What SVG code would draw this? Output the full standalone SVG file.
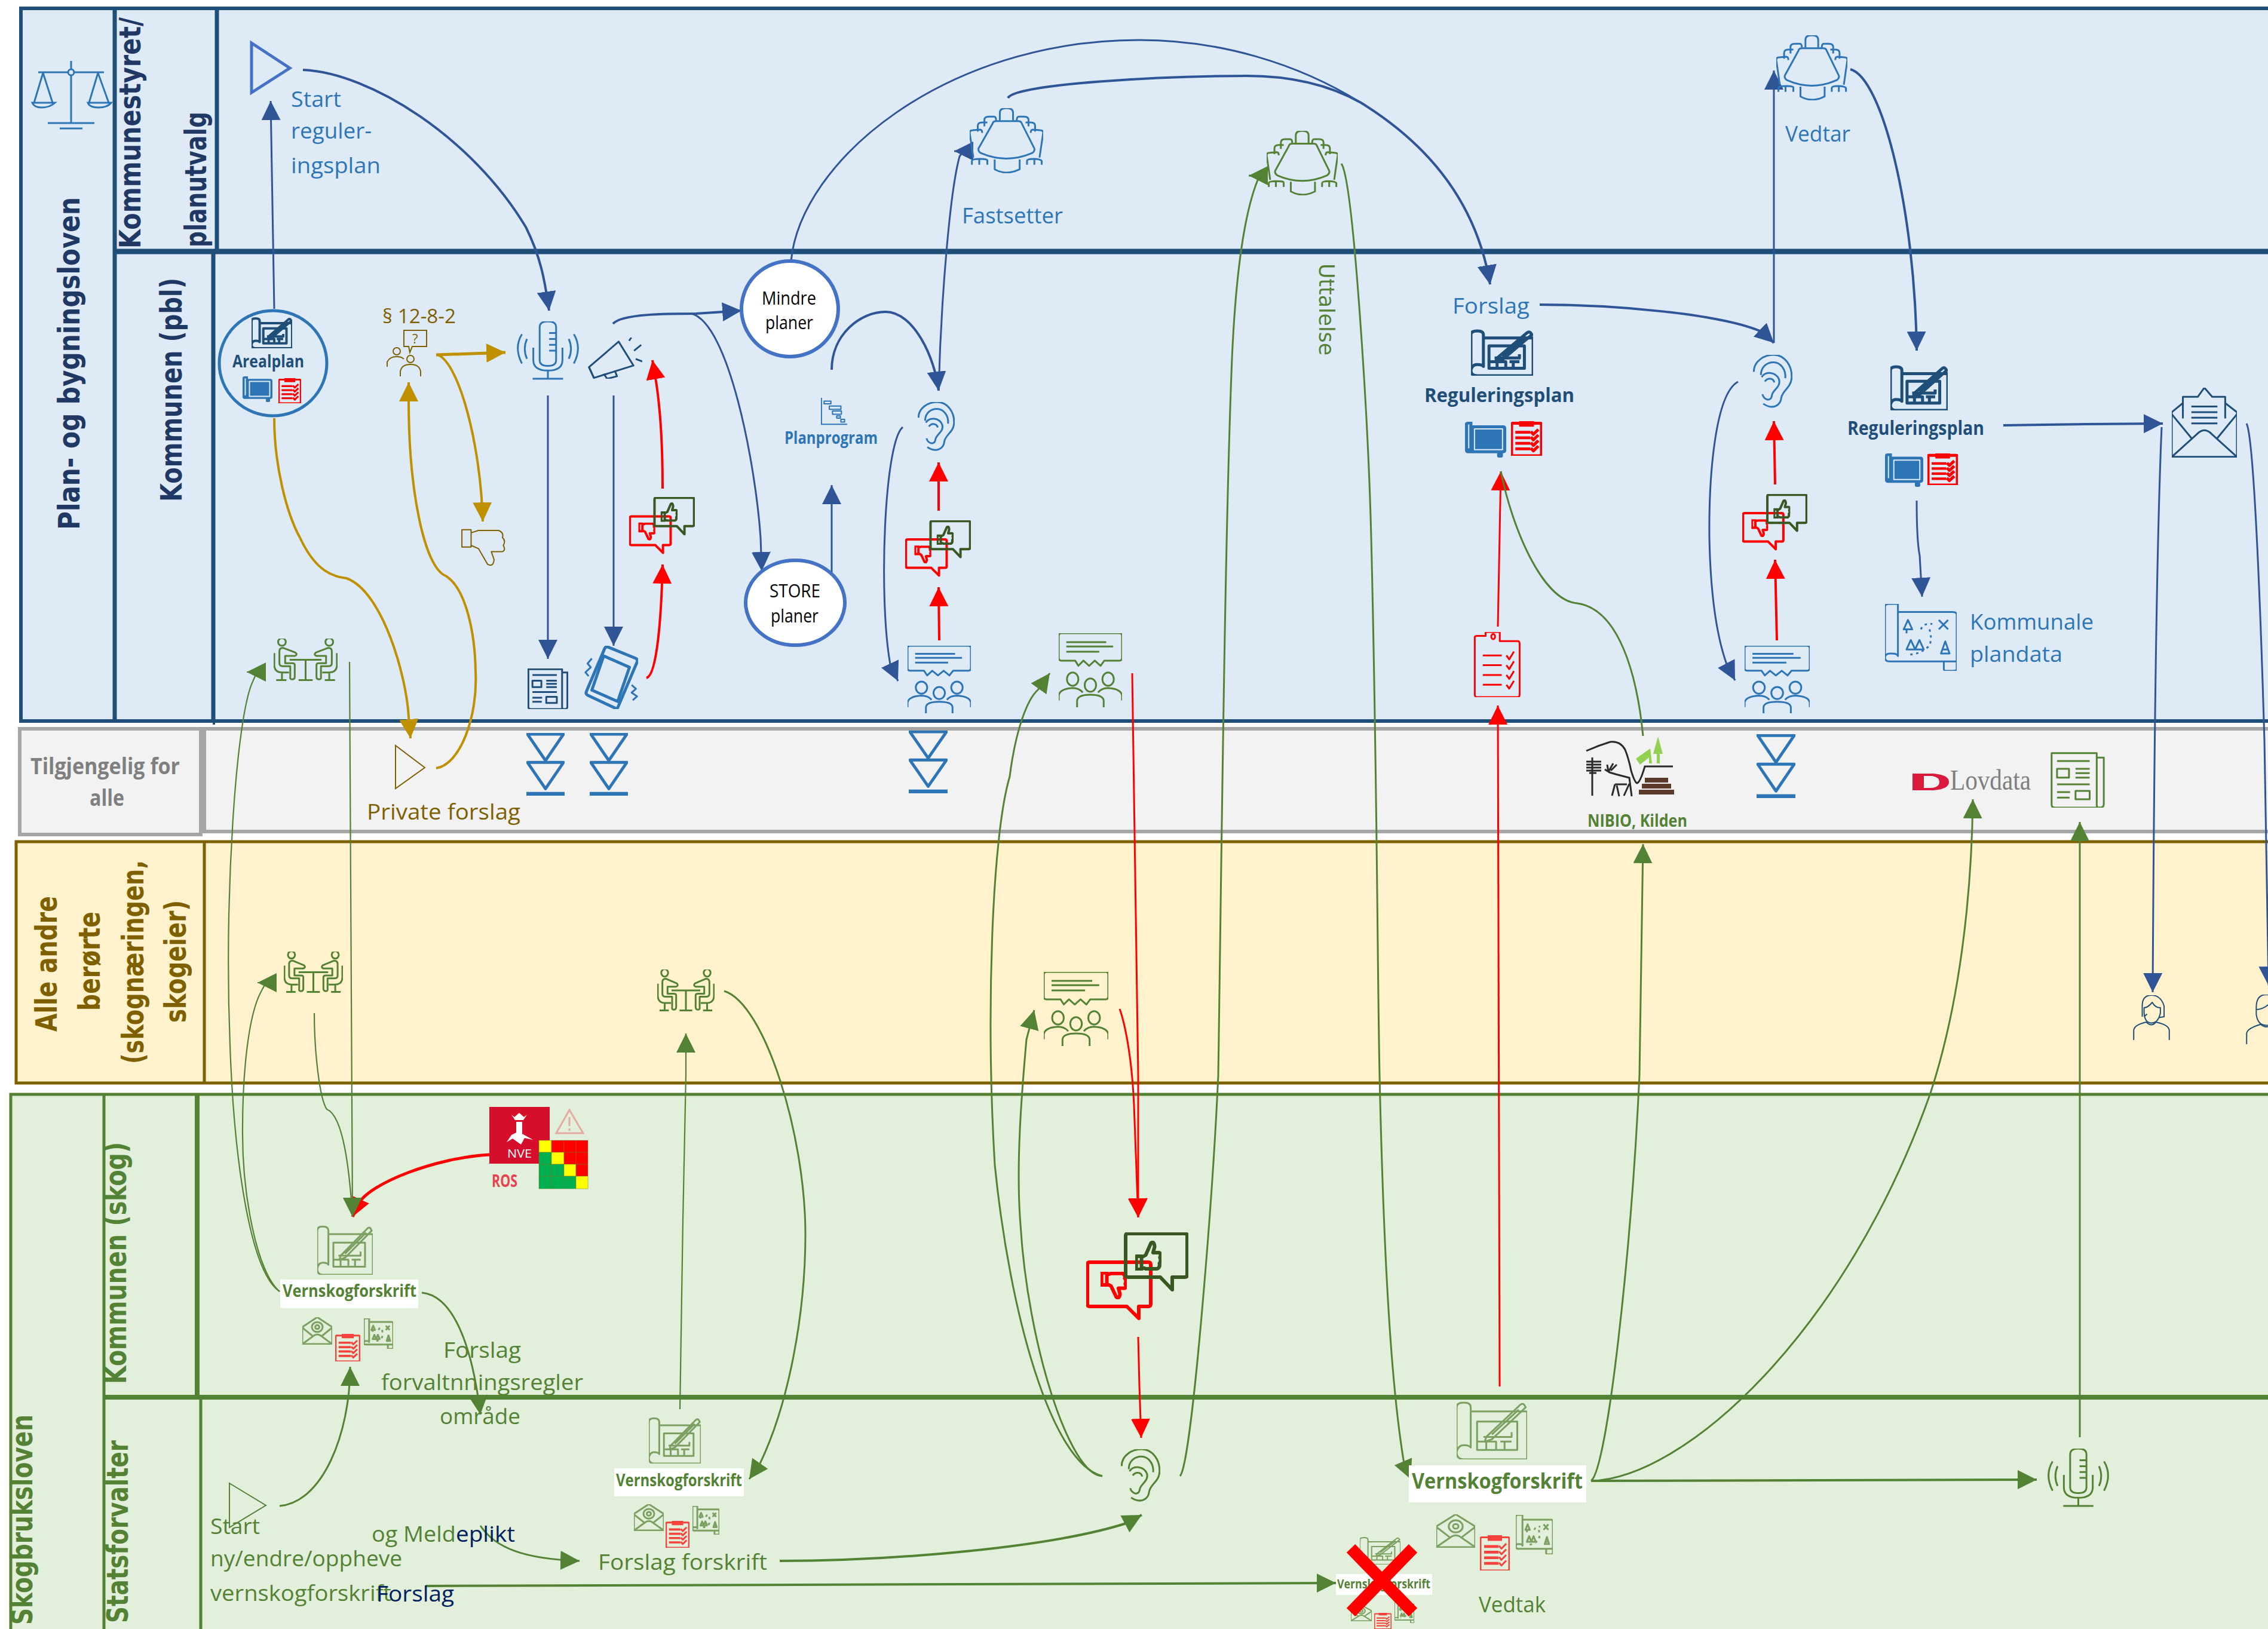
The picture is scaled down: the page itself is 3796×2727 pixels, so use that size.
<svg xmlns="http://www.w3.org/2000/svg" width="3796" height="2727" viewBox="0 0 3796 2727">
<style>
text{font-family:"Open Sans","Liberation Sans",sans-serif;font-size:37px}
.t{font-family:"DejaVu Sans",Verdana,sans-serif;font-weight:bold;font-size:50px}
.b{font-weight:bold;font-size:29px}
.navy{fill:#1F3864}.dk{fill:#1F4E79}.bl{fill:#2E75B6}.gr{fill:#548235}.go{fill:#7F6000}.gy{fill:#7F7F7F}.nv{fill:#002060}.k{fill:#000;font-size:31px}
.lb{fill:#DEEAF6;stroke:#1F4E79;stroke-width:6}
.lg{fill:#F2F2F2;stroke:#A6A6A6;stroke-width:6}
.ly{fill:#FFF2CC;stroke:#7F6000;stroke-width:5}
.lv{fill:#E2EFDA;stroke:#548235;stroke-width:5}
.d1{stroke:#1F4E79;fill:none}.d2{stroke:#548235;fill:none}.d3{stroke:#7F6000;fill:none}
#connectors path{fill:none}
.cb{stroke:#2F5597}.cg{stroke:#548235}.cy{stroke:#BF9000}.cr{stroke:#FF0000}
.w2{stroke-width:2.2}.w3{stroke-width:3}.w4{stroke-width:4}.w5{stroke-width:5}
.mab{marker-end:url(#ab)}.mag{marker-end:url(#ag)}.may{marker-end:url(#ay)}.mar{marker-end:url(#ar)}
symbol *{fill:none;stroke:currentColor;vector-effect:non-scaling-stroke;stroke-linejoin:round}
symbol .f{fill:currentColor;stroke:none}
.iB{color:#2E75B6;stroke-width:3}.iD{color:#1F4E79;stroke-width:3}.iG{color:#548235;stroke-width:3}.iO{color:#7F6000;stroke-width:2}
.iR{color:#FF0000;stroke-width:3}.s5{stroke-width:5}.s2{stroke-width:2}
.fade{opacity:.72}
.circ{fill:#fff;stroke:#4472C4;stroke-width:6}
</style>
<defs>
<marker id="ab" markerUnits="userSpaceOnUse" markerWidth="34" markerHeight="34" refX="32" refY="16" orient="auto"><path d="M0 0L32 16L0 32Z" fill="#2F5597"/></marker>
<marker id="ag" markerUnits="userSpaceOnUse" markerWidth="34" markerHeight="34" refX="32" refY="16" orient="auto"><path d="M0 0L32 16L0 32Z" fill="#548235"/></marker>
<marker id="ay" markerUnits="userSpaceOnUse" markerWidth="34" markerHeight="34" refX="32" refY="16" orient="auto"><path d="M0 0L32 16L0 32Z" fill="#BF9000"/></marker>
<marker id="ar" markerUnits="userSpaceOnUse" markerWidth="34" markerHeight="34" refX="32" refY="16" orient="auto"><path d="M0 0L32 16L0 32Z" fill="#FF0000"/></marker>
<symbol id="conf" viewBox="0 0 100 100" preserveAspectRatio="none">
<path d="M36 20H66Q70 20 71 24L88 62Q89 66 85 69Q50 86 15 69Q11 66 12 62L31 24Q32 20 36 20Z"/>
<path d="M34 79V94Q50 104 68 94V79"/>
<path d="M41 19V7Q41 0 50 0T59 7V19"/>
<path d="M20 28V18Q20 13 26 13H33Q36 13 36 19"/><path d="M80 28V18Q80 13 74 13H67Q64 13 64 19"/>
<path d="M11 36V27Q11 22 17 22H24"/><path d="M89 36V27Q89 22 83 22H76"/>
<path d="M5 76L0 38Q0 34 4 34L14 33Q17 33 17 38"/><path d="M95 76L100 38Q100 34 96 34L86 33Q83 33 83 38"/>
<path d="M3 87V81Q3 78 14 78T24 81V87M13 78V87"/><path d="M78 87V81Q78 78 87 78T98 81V87M88 78V87"/>
</symbol>
<symbol id="ear" viewBox="0 0 100 100" preserveAspectRatio="none">
<path d="M2 32C2 12 28 0 52 0C82 0 100 22 98 44C96 62 76 66 72 80C70 96 50 104 26 92"/>
<path d="M20 38C20 22 36 14 52 14C70 14 84 28 82 44"/>
<path d="M22 42C32 30 58 32 66 46C72 60 50 66 48 76C46 90 26 84 24 74"/>
<path d="M30 50C38 42 52 44 54 52"/>
</symbol>
<symbol id="mic" viewBox="0 0 100 100" preserveAspectRatio="none">
<path d="M37 10Q37 0 50 0T63 10V66Q63 76 50 76T37 66Z"/>
<path d="M27 45V66Q27 84 50 84T73 66V45"/>
<path d="M50 84V98M26 98H74M52 20H63M52 30H63M52 40H63M52 50H63"/>
<path d="M9 22Q-4 45 9 72M17 30Q10 47 17 64M91 22Q104 45 91 72M83 30Q90 47 83 64"/>
</symbol>
<symbol id="mega" viewBox="0 0 100 100" preserveAspectRatio="none">
<path d="M3 72L57 10L84 68L12 98Z"/><path d="M3 72L12 98M30 88L36 100L54 94L50 80"/>
<path d="M76 8L80 0M85 32L98 18M88 52L100 58"/>
</symbol>
<symbol id="plan" viewBox="0 0 100 100" preserveAspectRatio="none">
<path d="M20 19H100V100H10Q0 100 0 88V12Q0 4 10 4T20 12V80Q18 76 10 76T0 88"/>
<path d="M29 36H86V84H29ZM38 62H78V54M29 70H42V84M38 70H56V84M62 70H78M68 70V84"/>
<path d="M42 62L90 8Q94 4 96 8L98 12L50 66L40 70ZM50 58L88 16"/>
</symbol>
<symbol id="mapf" viewBox="0 0 100 100" preserveAspectRatio="none">
<path class="f" d="M0 6Q0 0 8 0H18V10H92Q100 10 100 18V80Q100 88 92 88V96Q92 100 88 100H82Q78 100 78 96V88H8Q0 88 0 80Z"/>
<path d="M23 20H91V78H23ZM9 8V74" style="stroke:#DEEAF6;stroke-width:2"/>
</symbol>
<symbol id="clip" viewBox="0 0 100 100" preserveAspectRatio="none">
<path d="M6 6H94Q98 6 98 10V96Q98 100 94 100H6Q2 100 2 96V10Q2 6 6 6Z"/>
<path class="f" d="M26 0H74V16H26ZM14 28H62V36H14ZM14 44H62V52H14ZM14 60H62V68H14ZM14 76H62V84H14Z"/>
<path d="M64 30L72 38L88 24M64 46L72 54L88 40M64 62L72 70L88 56M64 78L72 86L88 72"/>
</symbol>
<symbol id="clipo" viewBox="0 0 100 100" preserveAspectRatio="none">
<path d="M3 8Q3 6 8 6H26V0H56V14H94Q98 14 98 18V96Q98 100 94 100H8Q3 100 3 96Z"/>
<circle cx="42" cy="7" r="4"/>
<path d="M20 36H60M20 51H60M20 66H60M20 81H60M70 36L76 42L86 30M70 51L76 57L86 45M70 66L76 72L86 60M70 81L76 87L86 75"/>
</symbol>
<symbol id="news" viewBox="0 0 100 100" preserveAspectRatio="none">
<path d="M2 2H85V96Q85 100 90 100H8Q2 100 2 95Z"/><path d="M85 10H98V94Q98 100 90 100"/>
<path d="M12 16H72M12 82H35"/><path d="M12 30H34V46H12ZM46 30H72M46 38H72M46 46H72M12 58H72M12 72H36M46 70H72V85H46Z"/>
</symbol>
<symbol id="phone" viewBox="0 0 100 100" preserveAspectRatio="none">
<path d="M44 2L96 20Q100 22 98 26L62 98Q60 100 56 98L6 78Q2 76 4 72L38 4Q40 1 44 2Z"/>
<path d="M36 16L84 34M14 70L62 88L84 34L36 16Z"/>
<path d="M14 20L6 28L12 34L2 42L8 48M88 62L96 68L88 74L98 80L90 86" style="stroke-width:3"/>
</symbol>
<symbol id="grp" viewBox="0 0 100 100" preserveAspectRatio="none">
<path d="M4 0H96Q100 0 100 4V33Q100 37 96 37H72L66 44L57 37L48 44L39 37L31 44L26 37H4Q0 37 0 33V4Q0 0 4 0Z"/>
<path d="M12 12H75M12 18H86M12 25H64"/>
<ellipse cx="22" cy="62" rx="9" ry="9"/><ellipse cx="50" cy="70" rx="9" ry="9"/><ellipse cx="78" cy="62" rx="9" ry="9"/>
<path d="M0 91V84Q2 75 22 74Q32 74 38 80M100 91V84Q98 75 78 74Q68 74 62 80"/>
<path d="M29 100V91Q30 83 50 83T71 91V100"/>
</symbol>
<symbol id="meet" viewBox="0 0 100 100" preserveAspectRatio="none">
<ellipse cx="13" cy="8" rx="6" ry="9"/><ellipse cx="87" cy="8" rx="6" ry="9"/>
<path d="M25 50H75M50 50V98M39 98H61"/>
<path d="M9 58V30Q9 22 15 22L34 33Q38 38 33 41H18V58H29Q33 58 33 62V90Q33 96 29 96T26 90V65H14Q9 65 9 58Z"/>
<path d="M91 58V30Q91 22 85 22L66 33Q62 38 67 41H82V58H71Q67 58 67 62V90Q67 96 71 96T74 90V65H86Q91 65 91 58Z"/>
<path d="M1 34V62Q1 80 14 80H24M13 80V98M4 98H20M99 34V62Q99 80 86 80H76M87 80V98M96 98H80"/>
</symbol>
<symbol id="tri2" viewBox="0 0 100 100" preserveAspectRatio="none">
<path d="M3 2H97L50 44ZM3 47H97L50 89Z"/><rect class="f" x="0" y="94" width="100" height="6"/>
</symbol>
<symbol id="thumb" viewBox="0 0 50 50" preserveAspectRatio="none">
<path d="M2 26H12V48H2ZM12 28L20 24L30 4Q36 0 37 10L34 20H46Q50 22 47 28Q50 34 46 38Q48 44 42 47H20L12 44Z"/>
</symbol>
<symbol id="thumbd" viewBox="0 0 50 50" preserveAspectRatio="none">
<path d="M2 24H12V2H2ZM12 22L20 26L30 46Q36 50 37 40L34 30H46Q50 28 47 22Q50 16 46 12Q48 6 42 3H20L12 6Z"/>
</symbol>
<symbol id="pair" viewBox="0 0 171 148" preserveAspectRatio="none">
<g style="color:#FF0000"><path d="M6 50H104Q108 50 108 54V120Q108 124 104 124H88V144L68 124H6Q2 124 2 120V54Q2 50 6 50Z"/><use href="#thumbd" x="24" y="66" width="44" height="46"/></g>
<g style="color:#385723"><path d="M70 2H165Q169 2 169 6V71Q169 75 165 75H144V96L124 75H70Q66 75 66 71V6Q66 2 70 2Z"/><use href="#thumb" x="82" y="14" width="44" height="50"/></g>
</symbol>
<symbol id="env" viewBox="0 0 100 100" preserveAspectRatio="none">
<path d="M17 44V13H40L50 0L62 13H82V44"/><path d="M0 35L17 22M100 35L82 22M0 35V99H100V35"/>
<path d="M0 99L38 67Q50 55 62 67L100 99M0 38L30 72M100 38L70 72"/>
<path d="M30 27H70M30 35H70M30 43H70M30 51H70"/>
</symbol>
<symbol id="enva" viewBox="0 0 100 100" preserveAspectRatio="none">
<path d="M0 36L50 0L100 36V98H0Z"/><path d="M0 98L40 66Q50 60 60 66L100 98M0 38L34 68M100 38L66 68"/>
<circle cx="50" cy="36" r="18"/><circle cx="50" cy="36" r="7"/>
</symbol>
<symbol id="map" viewBox="0 0 100 100" preserveAspectRatio="none">
<path d="M0 4Q0 0 6 0H18V12H94Q100 12 100 16V98Q100 100 92 100H84Q82 100 82 96V86H6Q0 86 0 80ZM18 12V78Q18 74 8 74Q0 74 0 80M100 86H82"/>
<path d="M26 38L32 24L38 38ZM30 38V44M75 24L88 38M88 24L75 38M30 68L36 54L42 68ZM42 68L48 54L54 68ZM78 74L84 56L90 74ZM80 68H88"/>
<path d="M50 38Q54 28 66 30M62 38Q66 52 62 62Q50 76 30 76" stroke-dasharray="4 6"/>
</symbol>
<symbol id="gantt" viewBox="0 0 100 100" preserveAspectRatio="none">
<path d="M2 0V96H100"/><path d="M12 12H38V22H12ZM32 30H76V42H32ZM44 48H78V60H44ZM60 66H74V74H60ZM76 78H90V88H76Z"/>
</symbol>
<symbol id="fem" viewBox="0 0 100 100" preserveAspectRatio="none">
<path d="M25 48V24Q25 0 50 0T84 24V48L70 50M30 48L38 42"/>
<path d="M30 28Q40 28 52 16Q60 28 74 28V40Q68 62 50 62T30 40Z"/>
<path d="M2 100V78Q4 66 36 60Q50 72 62 60Q96 66 98 78V100"/>
</symbol>
<symbol id="mal" viewBox="0 0 100 100" preserveAspectRatio="none">
<path d="M28 26Q28 0 55 0T84 26V40Q78 62 55 62T28 40Z"/><path d="M28 30Q50 30 72 12"/>
<path d="M2 100V78Q4 68 40 60Q55 70 70 60Q96 68 98 78V100"/>
</symbol>
</defs>

<g id="lanes">
<g id="lane-pbl">
<rect class="lb" x="35" y="14" width="3770" height="1193"/>
<path class="d1" stroke-width="7" d="M192 12V1207M363 12V421M357 421V1207"/>
<path class="d1" stroke-width="9" d="M192 421H3796"/>
<path class="d1" stroke-width="4" stroke-dasharray="6 5" d="M358 646V1224"/>
</g>
<g id="lane-all">
<rect class="lg" x="33" y="1220" width="303" height="177"/>
<rect class="lg" x="342" y="1220" width="3460" height="172"/>
</g>
<g id="lane-other">
<rect class="ly" x="27" y="1409" width="3780" height="404"/>
<path class="d3" stroke-width="5" d="M342 1409V1813"/>
</g>
<g id="lane-skog">
<rect class="lv" x="18" y="1832" width="3790" height="910"/>
<path class="d2" stroke-width="5" d="M174 1832V2727M336 2339V2727"/>
<path class="d2" stroke-width="8" d="M330 1832V2339"/>
<path class="d2" stroke-width="8" d="M174 2339H3796"/>
</g>
<g id="lane-titles">
<text class="t navy" transform="translate(133,887) rotate(-90)" textLength="557" lengthAdjust="spacingAndGlyphs">Plan- og bygningsloven</text>
<text class="t navy" transform="translate(235,416) rotate(-90)" textLength="387" lengthAdjust="spacingAndGlyphs">Kommunestyret/</text>
<text class="t navy" transform="translate(345,414) rotate(-90)" textLength="227" lengthAdjust="spacingAndGlyphs">planutvalg</text>
<text class="t navy" transform="translate(304,840) rotate(-90)" textLength="375" lengthAdjust="spacingAndGlyphs">Kommunen (pbl)</text>
<text class="b gy" style="font-size:38px" x="51" y="1296" textLength="250" lengthAdjust="spacingAndGlyphs">Tilgjengelig for</text>
<text class="b gy" style="font-size:38px" x="150" y="1349" textLength="58" lengthAdjust="spacingAndGlyphs">alle</text>
<text class="t go" transform="translate(95,1727) rotate(-90)" textLength="227" lengthAdjust="spacingAndGlyphs">Alle andre</text>
<text class="t go" transform="translate(167,1692) rotate(-90)" textLength="166" lengthAdjust="spacingAndGlyphs">berørte</text>
<text class="t go" transform="translate(240,1781) rotate(-90)" textLength="341" lengthAdjust="spacingAndGlyphs">(skognæringen,</text>
<text class="t go" transform="translate(311,1712) rotate(-90)" textLength="205" lengthAdjust="spacingAndGlyphs">skogeier)</text>
<text class="t gr" transform="translate(54,2720) rotate(-90)" textLength="352" lengthAdjust="spacingAndGlyphs">Skogbruksloven</text>
<text class="t gr" transform="translate(211,2317) rotate(-90)" textLength="405" lengthAdjust="spacingAndGlyphs">Kommunen (skog)</text>
<text class="t gr" transform="translate(214,2717) rotate(-90)" textLength="306" lengthAdjust="spacingAndGlyphs">Statsforvalter</text>
</g>
</g>

<g id="connectors">
<path class="cb w3 mab" d="M459 517L456 344L453 169"/>
<path class="cb w4 mab" d="M507 117C620 122 790 230 880 380C905 430 912 470 919 520"/>
<path class="cb w4 mab" d="M1026 542C1040 525 1120 525 1165 525L1241 520"/>
<path class="cb w3 mab" d="M1157 525C1220 540 1265 780 1273 900L1275 956"/>
<path class="cb w3 mab" d="M917 662V1103"/>
<path class="cb w3 mab" d="M1027 662V1081"/>
<path class="cb w3 mab" d="M1392 960V812"/>
<path class="cb w3 mab" d="M1324 437C1340 270 1580 67 1907 67C2040 67 2170 105 2278 172C2380 235 2470 330 2494 476"/>
<path class="cb w4 mab" d="M1687 164C1700 140 1950 127 2087 127C2170 127 2230 145 2278 172C2380 235 2470 330 2494 476"/>
<path class="cb w4 mab" d="M1392 619C1392 560 1440 522 1482 522C1530 522 1565 600 1571 654"/>
<path class="cb w3 mab" d="M1571 654C1575 500 1590 320 1606 262L1612 253L1597 253"/>
<path class="cb w3 mab" d="M1511 715C1480 740 1470 1000 1490 1112L1503 1140"/>
<path class="cb w3 mab" d="M2909 639C2870 660 2860 800 2861 900C2863 1000 2875 1070 2890 1112L2904 1139"/>
<path class="cb w4 mab" d="M2577 510C2700 510 2880 525 2950 556L2969 574"/>
<path class="cb w3 mab" d="M2969 574V118"/>
<path class="cb w4 mab" d="M3097 116C3150 130 3205 350 3208 587"/>
<path class="cb w3 mab" d="M3208 838C3208 900 3211 920 3213 930L3217 999"/>
<path class="cb w4 mab" d="M3353 712L3492 710L3620 709"/>
<path class="cb w3 mab" d="M3618 715C3610 900 3605 1300 3603 1661"/>
<path class="cb w3 mab" d="M3760 709C3772 730 3783 1000 3790 1240L3797 1650"/>
<path class="cy w4 may" d="M459 700C459 780 480 860 502 900C530 960 560 965 580 968C640 990 680 1130 684 1200L687 1236"/>
<path class="cy w4 may" d="M730 1286C770 1280 800 1200 796 1124C795 1060 780 985 746 964C710 950 684 820 684 672L684 640"/>
<path class="cy w5 may" d="M730 594L846 590"/>
<path class="cy w4 may" d="M733 594C770 610 805 750 808 873"/>
<path class="cr w4 mar" d="M1082 1135C1100 1130 1107 1030 1109 945"/>
<path class="cr w4 mar" d="M1109 818C1109 740 1105 680 1097 632L1092 603"/>
<path class="cr w4 mar" d="M1572 1072L1571 983"/>
<path class="cr w4 mar" d="M1571 855V774"/>
<path class="cr w4 mar" d="M2974 1072L2971 937"/>
<path class="cr w4 mar" d="M2971 811L2969 705"/>
<path class="cr w3 mar" d="M2507 1049L2512 789"/>
<path class="cr w3 mar" d="M2510 2321L2507 1181"/>
<path class="cr w3 mar" d="M1895 1127C1900 1400 1904 1600 1905 1800L1905 2038"/>
<path class="cr w3 mar" d="M1874 1689C1885 1720 1895 1780 1898 1850L1905 2038"/>
<path class="cr w3 mar" d="M1905 2238L1907 2320L1910 2407"/>
<path class="cr w5 mar" d="M819 1933C730 1938 620 1980 600 2015L590 2037"/>
<path class="cg w2 mag" d="M585 1108L590 2037"/>
<path class="cg w2" d="M526 1696C526 1760 535 1840 547 1857C575 1868 585 1960 590 2037"/>
<path class="cg w2 mag" d="M468 2162C420 2130 392 1950 385 1750C375 1500 395 1200 423 1141L430 1125L413 1125"/>
<path class="cg w2 mag" d="M468 2162C430 2130 405 2000 406 1889C406 1800 415 1700 437 1660L445 1645L431 1645"/>
<path class="cg w3 mag" d="M706 2164C770 2170 795 2290 804 2368"/>
<path class="cg w3 mag" d="M468 2521C540 2515 586 2400 586 2288"/>
<path class="cg w3 mag" d="M804 2554C829 2592 879 2610 970 2613"/>
<path class="cg w4 mag" d="M713 2655L2236 2650"/>
<path class="cg w2 mag" d="M1138 2359L1143 2042L1148 1800V1730"/>
<path class="cg w3 mag" d="M1212 1659C1280 1680 1348 1900 1348 2066C1348 2200 1320 2350 1272 2450L1254 2476"/>
<path class="cg w4 mag" d="M1305 2613C1500 2613 1760 2590 1885 2550L1911 2536"/>
<path class="cg w3 mag" d="M1845 2471C1790 2470 1720 2250 1708 2050C1700 1950 1710 1830 1718 1740L1731 1691"/>
<path class="cg w3 mag" d="M1845 2471C1760 2450 1690 2200 1665 1950C1650 1700 1660 1400 1690 1300C1700 1220 1720 1170 1737 1155L1757 1127"/>
<path class="cg w3 mag" d="M1975 2471C1995 2450 2030 2000 2039 1800C2045 1400 2050 900 2062 600C2070 420 2090 340 2104 304L2108 294L2090 294"/>
<path class="cg w3 mag" d="M2245 274C2265 300 2290 700 2295 900C2305 1300 2305 1600 2309 1800C2318 2200 2335 2360 2350 2450L2361 2476"/>
<path class="cg w3 mag" d="M2663 2479C2690 2460 2730 2100 2744 1800L2750 1413"/>
<path class="cg w3 mag" d="M2663 2479C2820 2475 3090 2230 3231 1830C3280 1680 3300 1500 3302 1338"/>
<path class="cg w4 mag" d="M2663 2479L3409 2477"/>
<path class="cg w3 mag" d="M3481 2406V1376"/>
<path class="cg w3" d="M2750 1232C2740 1130 2710 1020 2640 1010C2580 1005 2530 880 2512 789"/>
</g>

<g id="n-scales" fill="none" stroke="#2E75B6" stroke-width="3">
<path d="M119 102V206M64 121H174M80 206H158M100 215H138"/><circle cx="119" cy="121" r="5" fill="#DEEAF6"/>
<path d="M72 122L57 172M72 122L88 172M164 122L149 172M164 122L182 172M54 172Q57 180 70 180T92 172ZM147 172Q150 180 165 180T186 172Z"/>
</g>
<g id="n-start">
<path d="M421 72L485 114L421 155Z" fill="none" stroke="#4472C4" stroke-width="5"/>
<text class="bl" x="487" y="179" textLength="84" lengthAdjust="spacingAndGlyphs">Start</text>
<text class="bl" x="487" y="232" textLength="135" lengthAdjust="spacingAndGlyphs">reguler-</text>
<text class="bl" x="487" y="290" textLength="150" lengthAdjust="spacingAndGlyphs">ingsplan</text>
</g>
<g id="n-arealplan">
<ellipse cx="457" cy="608" rx="90" ry="88" fill="none" stroke="#2E75B6" stroke-width="5"/>
<use href="#plan" x="421" y="531" width="68" height="52" class="iD" style="stroke-width:4"/>
<text class="b dk" x="389" y="615" textLength="120" lengthAdjust="spacingAndGlyphs">Arealplan</text>
<use href="#mapf" x="406" y="630" width="50" height="43" class="iB"/>
<use href="#clip" x="466" y="633" width="38" height="42" class="iR"/>
</g>
<g id="n-12-8-2">
<text class="go" style="font-size:33px" x="640" y="541" textLength="123" lengthAdjust="spacingAndGlyphs">§ 12-8-2</text>
<g fill="none" stroke="#7F6000" stroke-width="2">
<path d="M676 553H714V580H690L686 590L684 580H676Z"/><circle cx="664" cy="588" r="6"/><circle cx="687" cy="601" r="6"/>
<path d="M648 614V606Q652 597 664 597Q672 597 676 601M670 630V622Q672 610 687 610T704 622V630"/>
</g>
<text class="go" style="font-size:22px" x="690" y="575">?</text>
</g>
<g id="n-mic"><use href="#mic" x="864" y="538" width="106" height="98" class="iB"/></g>
<g id="n-mega"><use href="#mega" x="983" y="565" width="92" height="69" class="iD"/></g>
<g id="n-thumbdown"><use href="#thumbd" x="770" y="884" width="77" height="66" class="iO"/></g>
<g id="n-pair1"><use href="#pair" x="1053" y="832" width="110" height="96" style="stroke-width:4"/></g>
<g id="n-mindre">
<ellipse class="circ" cx="1322" cy="517" rx="81" ry="80"/>
<text class="k" x="1275" y="510" textLength="91" lengthAdjust="spacingAndGlyphs">Mindre</text>
<text class="k" x="1281" y="551" textLength="80" lengthAdjust="spacingAndGlyphs">planer</text>
</g>
<g id="n-store">
<ellipse class="circ" cx="1331" cy="1009" rx="83" ry="71"/>
<text class="k" x="1288" y="1000" textLength="85" lengthAdjust="spacingAndGlyphs">STORE</text>
<text class="k" x="1290" y="1042" textLength="80" lengthAdjust="spacingAndGlyphs">planer</text>
</g>
<g id="n-planprogram">
<use href="#gantt" x="1374" y="666" width="44" height="46" class="iB s2"/>
<text class="b bl" x="1313" y="743" textLength="156" lengthAdjust="spacingAndGlyphs">Planprogram</text>
</g>
<g id="n-fastsetter">
<use href="#conf" x="1623" y="181" width="123" height="109" class="iB"/>
<text class="bl" x="1610" y="374" textLength="169" lengthAdjust="spacingAndGlyphs">Fastsetter</text>
</g>
<g id="n-uttalelse">
<use href="#conf" x="2120" y="219" width="119" height="108" class="iG"/>
<text class="gr" style="font-family:'DejaVu Sans',sans-serif;font-size:36px" transform="translate(2208,441) rotate(90)" textLength="154" lengthAdjust="spacingAndGlyphs">Uttalelse</text>
</g>
<g id="n-vedtar">
<use href="#conf" x="2973" y="59" width="119" height="109" class="iB"/>
<text class="bl" x="2988" y="237" textLength="109" lengthAdjust="spacingAndGlyphs">Vedtar</text>
</g>
<g id="n-ear1"><use href="#ear" x="1536" y="673" width="62" height="82" class="iB"/></g>
<g id="n-pair2"><use href="#pair" x="1515" y="871" width="110" height="95" style="stroke-width:4"/></g>
<g id="n-group1"><use href="#grp" x="1519" y="1081" width="106" height="113" class="iB"/></g>
<g id="n-forslag">
<text class="bl" x="2431" y="525" textLength="129" lengthAdjust="spacingAndGlyphs">Forslag</text>
<use href="#plan" x="2462" y="551" width="104" height="78" class="iD s5"/>
<text class="b dk" style="font-size:32px" x="2384" y="673" textLength="251" lengthAdjust="spacingAndGlyphs">Reguleringsplan</text>
<use href="#mapf" x="2452" y="706" width="69" height="60" class="iB"/>
<use href="#clip" x="2529" y="705" width="52" height="58" class="iR s5"/>
</g>
<g id="n-ear2"><use href="#ear" x="2934" y="594" width="66" height="89" class="iB"/></g>
<g id="n-pair3"><use href="#pair" x="2916" y="827" width="109" height="95" style="stroke-width:4"/></g>
<g id="n-group2"><use href="#grp" x="2920" y="1081" width="109" height="113" class="iB"/></g>
<g id="n-regplan2">
<use href="#plan" x="3164" y="611" width="96" height="76" class="iD s5"/>
<text class="b dk" style="font-size:32px" x="3092" y="728" textLength="229" lengthAdjust="spacingAndGlyphs">Reguleringsplan</text>
<use href="#mapf" x="3155" y="759" width="64" height="56" class="iB"/>
<use href="#clip" x="3226" y="759" width="51" height="53" class="iR s5"/>
</g>
<g id="n-envelope"><use href="#env" x="3635" y="649" width="109" height="117" class="iD"/></g>
<g id="n-plandata">
<use href="#map" x="3155" y="1011" width="120" height="112" class="iB"/>
<text class="bl" x="3297" y="1054" textLength="207" lengthAdjust="spacingAndGlyphs">Kommunale</text>
<text class="bl" x="3297" y="1108" textLength="155" lengthAdjust="spacingAndGlyphs">plandata</text>
</g>
<g id="n-greengroup1"><use href="#grp" x="1772" y="1060" width="106" height="124" class="iG"/></g>
<g id="n-greengroup2"><use href="#grp" x="1747" y="1627" width="108" height="124" class="iG"/></g>
<g id="n-clipboard"><use href="#clipo" x="2466" y="1058" width="79" height="109" class="iR"/></g>
<g id="n-news"><use href="#news" x="883" y="1119" width="68" height="68" class="iD"/></g>
<g id="n-phone"><use href="#phone" x="978" y="1081" width="90" height="106" class="iB s5"/></g>
<g id="n-tri1"><use href="#tri2" x="881" y="1227" width="64" height="105" class="iB s5"/></g>
<g id="n-tri2"><use href="#tri2" x="987" y="1227" width="64" height="105" class="iB s5"/></g>
<g id="n-tri3"><use href="#tri2" x="1521" y="1223" width="65" height="105" class="iB s5"/></g>
<g id="n-tri4"><use href="#tri2" x="2940" y="1229" width="65" height="107" class="iB s5"/></g>
<g id="n-meet1"><use href="#meet" x="458" y="1069" width="107" height="71" class="iG"/></g>
<g id="n-meet2"><use href="#meet" x="475" y="1593" width="99" height="69" class="iG"/></g>
<g id="n-meet3"><use href="#meet" x="1100" y="1623" width="96" height="70" class="iG"/></g>
<g id="n-private">
<path d="M662 1248L711 1285L662 1320Z" fill="none" stroke="#7F6000" stroke-width="2"/>
<text class="go" x="614" y="1372" textLength="257" lengthAdjust="spacingAndGlyphs">Private forslag</text>
</g>
<g id="n-nibio">
<g fill="none" stroke="#2a2a2a" stroke-width="3">
<path d="M2655 1257Q2675 1248 2695 1242Q2712 1240 2720 1255Q2726 1270 2730 1290Q2736 1310 2740 1311Q2745 1310 2753 1283H2800"/>
<path d="M2665 1268V1332M2655 1275H2680M2655 1280H2680M2655 1285H2680M2655 1290H2680M2660 1294H2672"/>
<path d="M2686 1288L2694 1293L2704 1296L2727 1302L2731 1333M2727 1312L2718 1332M2703 1313L2698 1332M2703 1313H2723M2706 1315L2710 1333M2692 1292L2690 1280M2692 1292L2700 1278M2696 1290L2706 1280"/>
</g>
<path d="M2775 1233L2767 1262L2773 1262V1278H2778V1262L2783 1262ZM2738 1270L2762 1253L2765 1278H2760V1268L2745 1280Z" fill="#92D050"/>
<path d="M2753 1302H2792V1310H2753ZM2748 1312H2797V1320H2748ZM2743 1322H2802V1330H2743Z" fill="#5B3A29"/>
<text class="b gr" x="2657" y="1384" textLength="167" lengthAdjust="spacingAndGlyphs">NIBIO, Kilden</text>
</g>
<g id="n-lovdata">
<path d="M3201 1295H3236Q3262 1297 3262 1309T3236 1323H3201ZM3215 1299V1319M3220 1299V1319H3234Q3246 1317 3246 1309T3234 1299Z" fill="#DA1A3C" fill-rule="evenodd"/>
<text class="gy" style="font-family:'Liberation Serif',serif;font-size:48px" x="3264" y="1322" textLength="135" lengthAdjust="spacingAndGlyphs">Lovdata</text>
</g>
<g id="n-news2"><use href="#news" x="3432" y="1259" width="91" height="93" class="iG"/></g>
<g id="n-female"><use href="#fem" x="3570" y="1666" width="62" height="75" class="iD s2"/></g>
<g id="n-male"><use href="#mal" x="3759" y="1665" width="62" height="83" class="iD s2"/></g>
<g id="n-nve">
<rect x="819" y="1853" width="101" height="95" fill="#D50F2B"/>
<path d="M862 1875L856 1866L861 1870L869 1863L877 1870L882 1866L876 1875ZM864 1878H874V1898L892 1908L878 1905L872 1916L858 1906L848 1912L856 1900L864 1896Z" fill="#fff"/>
<text x="849" y="1938" style="font-size:20px" fill="#fff" textLength="41" lengthAdjust="spacingAndGlyphs">NVE</text>
<path d="M953 1858L976 1897H931Z" fill="none" stroke="#E8A9A0" stroke-width="3"/><path d="M953 1870V1885M953 1889V1893" stroke="#E8A9A0" stroke-width="3"/>
<g id="matrix" stroke="#7a7a2a" stroke-width=".5">
<rect x="902" y="1909" width="21" height="20" fill="#FFFF00"/><rect x="923" y="1909" width="21" height="20" fill="#F00"/><rect x="944" y="1909" width="20" height="20" fill="#F00"/><rect x="964" y="1909" width="20" height="20" fill="#F00"/>
<rect x="902" y="1929" width="21" height="20" fill="#00B050"/><rect x="923" y="1929" width="21" height="20" fill="#FFFF00"/><rect x="944" y="1929" width="20" height="20" fill="#F00"/><rect x="964" y="1929" width="20" height="20" fill="#F00"/>
<rect x="902" y="1949" width="21" height="20" fill="#00B050"/><rect x="923" y="1949" width="21" height="20" fill="#00B050"/><rect x="944" y="1949" width="20" height="20" fill="#FFFF00"/><rect x="964" y="1949" width="20" height="20" fill="#F00"/>
<rect x="902" y="1969" width="21" height="21" fill="#00B050"/><rect x="923" y="1969" width="21" height="21" fill="#00B050"/><rect x="944" y="1969" width="20" height="21" fill="#00B050"/><rect x="964" y="1969" width="20" height="21" fill="#FFFF00"/>
</g>
<text class="b" x="823" y="1987" fill="#E8414F" textLength="43" lengthAdjust="spacingAndGlyphs">ROS</text>
</g>
<g id="n-bubbles"><use href="#pair" x="1818" y="2063" width="171" height="148" style="stroke-width:6"/></g>
<g id="n-vern1">
<use href="#plan" x="531" y="2050" width="93" height="84" class="iG fade"/>
<rect x="469" y="2142" width="231" height="48" fill="#fff"/>
<text class="b gr" x="473" y="2171" textLength="224" lengthAdjust="spacingAndGlyphs">Vernskogforskrift</text>
<use href="#enva" x="506" y="2205" width="50" height="46" class="iG fade"/>
<use href="#clip" x="561" y="2233" width="42" height="46" class="iR fade"/>
<use href="#map" x="609" y="2207" width="49" height="51" class="iG fade"/>
<text class="gr" x="742" y="2273" textLength="130" lengthAdjust="spacingAndGlyphs">Forslag</text>
<text class="gr" x="638" y="2327" textLength="338" lengthAdjust="spacingAndGlyphs">forvaltnningsregler</text>
<text class="gr" x="736" y="2384" textLength="135" lengthAdjust="spacingAndGlyphs">område</text>
</g>
<g id="n-vern2">
<use href="#plan" x="1086" y="2371" width="87" height="79" class="iG fade"/>
<rect x="1028" y="2458" width="217" height="47" fill="#fff"/>
<text class="b gr" style="font-size:28px" x="1031" y="2488" textLength="211" lengthAdjust="spacingAndGlyphs">Vernskogforskrift</text>
<use href="#enva" x="1061" y="2518" width="50" height="45" class="iG fade"/>
<use href="#clip" x="1114" y="2546" width="40" height="45" class="iR fade"/>
<use href="#map" x="1159" y="2521" width="45" height="48" class="iG fade"/>
<text class="gr" x="1001" y="2628" textLength="283" lengthAdjust="spacingAndGlyphs">Forslag forskrift</text>
</g>
<g id="n-start2">
<path d="M384 2483L445 2520L384 2557Z" fill="none" stroke="#548235" stroke-width="2"/>
<text class="gr" x="352" y="2568" textLength="83" lengthAdjust="spacingAndGlyphs">Start</text>
<text class="gr" x="352" y="2622" textLength="321" lengthAdjust="spacingAndGlyphs">ny/endre/oppheve</text>
<text class="gr" x="352" y="2680" textLength="303" lengthAdjust="spacingAndGlyphs">vernskogforskrift</text>
<text class="gr" x="622" y="2581" textLength="141" lengthAdjust="spacingAndGlyphs">og Meld</text>
<text class="nv" x="763" y="2581" textLength="99" lengthAdjust="spacingAndGlyphs">eplikt</text>
<text class="nv" x="630" y="2681" textLength="130" lengthAdjust="spacingAndGlyphs">Forslag</text>
</g>
<g id="n-vern3">
<use href="#plan" x="2438" y="2344" width="118" height="99" class="iG fade"/>
<rect x="2358" y="2453" width="297" height="62" fill="#fff"/>
<text class="b gr" style="font-size:36px" x="2363" y="2492" textLength="286" lengthAdjust="spacingAndGlyphs">Vernskogforskrift</text>
<use href="#enva" x="2404" y="2535" width="65" height="56" class="iG fade"/>
<use href="#clip" x="2477" y="2570" width="50" height="59" class="iR fade"/>
<use href="#map" x="2537" y="2536" width="62" height="66" class="iG fade"/>
<text class="gr" x="2475" y="2699" textLength="112" lengthAdjust="spacingAndGlyphs">Vedtak</text>
</g>
<g id="n-vern4">
<use href="#plan" x="2276" y="2572" width="68" height="47" class="iG fade s2"/>
<rect x="2236" y="2635" width="161" height="35" fill="#fff"/>
<text class="b gr" style="font-size:21px" x="2238" y="2659" textLength="156" lengthAdjust="spacingAndGlyphs">Vernskogforskrift</text>
<use href="#enva" x="2261" y="2687" width="35" height="27" class="iG fade s2"/>
<use href="#clip" x="2300" y="2700" width="29" height="27" class="iR fade s2"/>
<use href="#map" x="2334" y="2681" width="33" height="36" class="iG fade s2"/>
<path d="M2261 2592L2365 2699M2365 2592L2261 2699" stroke="#FF0000" stroke-width="20" fill="none"/>
</g>
<g id="n-ear3"><use href="#ear" x="1876" y="2426" width="66" height="88" class="iG"/></g>
<g id="n-mic2"><use href="#mic" x="3426" y="2425" width="105" height="98" class="iG"/></g>
</svg>
